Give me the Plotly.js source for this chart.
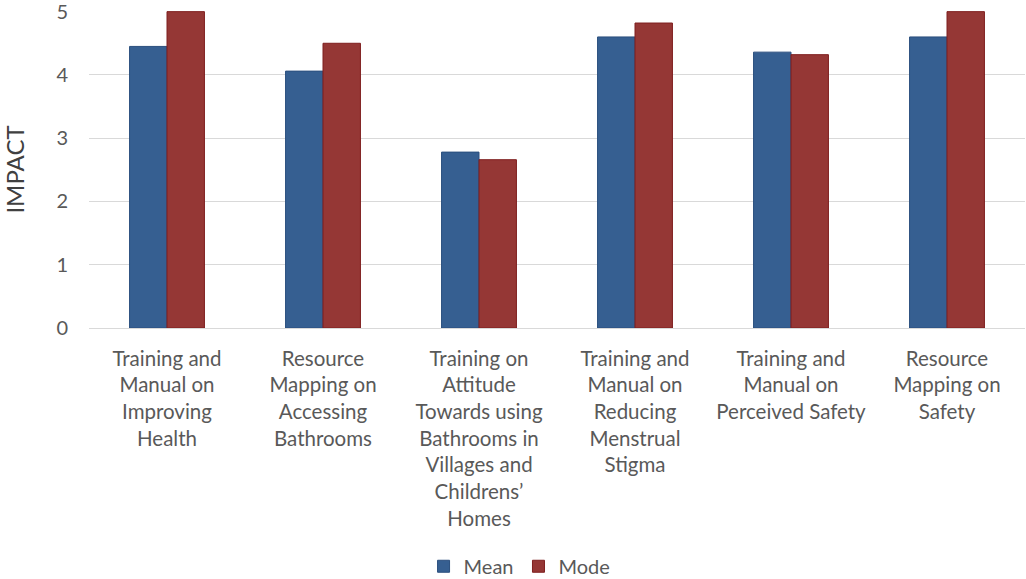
<!DOCTYPE html>
<html>
<head>
<meta charset="utf-8">
<script src="https://cdn.plot.ly/plotly-3.0.1.min.js"></script>
<style>html,body{margin:0;padding:0;background:#fff;}#chart{width:1026px;height:579px;}</style>
</head>
<body>
<div id="chart"></div>
<script>
const categories = [
  "Training and<br>Manual on<br>Improving<br>Health",
  "Resource<br>Mapping on<br>Accessing<br>Bathrooms",
  "Training on<br>Attitude<br>Towards using<br>Bathrooms in<br>Villages and<br>Childrens’<br>Homes",
  "Training and<br>Manual on<br>Reducing<br>Menstrual<br>Stigma",
  "Training and<br>Manual on<br>Perceived Safety",
  "Resource<br>Mapping on<br>Safety"
];
const meanValues = [4.45, 4.06, 2.78, 4.6, 4.36, 4.6];
const modeValues = [5, 4.5, 2.66, 4.82, 4.32, 5];
const yTicks = [0, 1, 2, 3, 4, 5];

const font = "Lato, 'Open Sans', sans-serif";
const data = [
  {type: 'bar', name: 'Mean', x: categories, y: meanValues,
   marker: {color: '#365F91', line: {color: '#2B4F7E', width: 1}}},
  {type: 'bar', name: 'Mode', x: categories, y: modeValues,
   marker: {color: '#953735', line: {color: '#7F1F1F', width: 1}}}
];
const layout = {
  width: 1026, height: 579,
  margin: {l: 89, r: 1, t: 11, b: 251},
  paper_bgcolor: '#fff', plot_bgcolor: '#fff',
  barmode: 'group', bargap: 0.52, bargroupgap: 0,
  font: {family: font, color: '#595959', size: 20},
  showlegend: true,
  legend: {orientation: 'h', x: 0.46, xanchor: 'center',
           yref: 'container', y: 0.022, yanchor: 'middle',
           font: {size: 20, color: '#595959'}, tracegroupgap: 0},
  xaxis: {tickfont: {size: 20.5, color: '#595959'}, showline: true, linecolor: '#d9d9d9',
          linewidth: 1, ticks: '', showgrid: false, automargin: false,
          ticklabelstandoff: 12},
  yaxis: {range: [0, 5.01], tickvals: yTicks, ticktext: yTicks.map(String),
          showgrid: true, gridcolor: '#d9d9d9', gridwidth: 1, zeroline: false,
          showline: false, ticks: '', tickfont: {size: 20, color: '#595959'},
          ticklabelstandoff: 20, ticklabeloverflow: 'allow',
          title: {text: 'IMPACT', font: {size: 24, color: '#404040'}, standoff: 34},
          automargin: false}
};
Plotly.newPlot('chart', data, layout, {displayModeBar: false, staticPlot: true});
</script>
</body>
</html>
